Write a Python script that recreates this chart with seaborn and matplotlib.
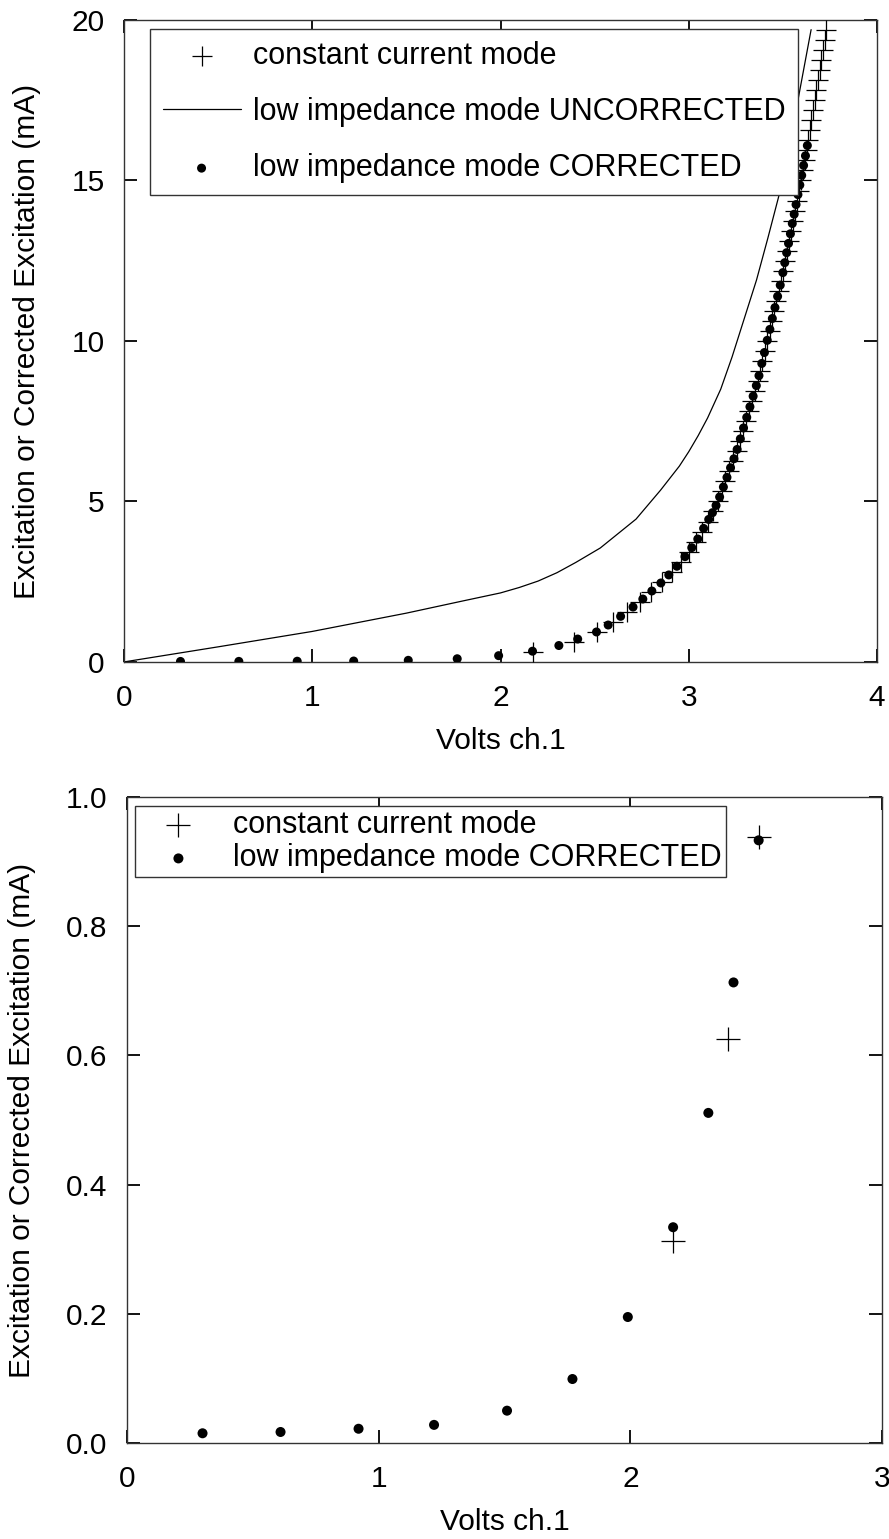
import numpy as np
import pandas as pd
import matplotlib
matplotlib.use("Agg")
import matplotlib.pyplot as plt
import seaborn as sns

# ── data ──
# constant current mode: excitation in 0.3125 mA steps
cc_volts = [2.17, 2.39, 2.51, 2.60, 2.67, 2.74, 2.80, 2.86, 2.91, 2.96,
            3.00, 3.04, 3.07, 3.10, 3.13, 3.155, 3.175, 3.195, 3.215, 3.235,
            3.254, 3.270, 3.286, 3.302, 3.318, 3.334, 3.350, 3.366, 3.379, 3.391,
            3.404, 3.416, 3.429, 3.441, 3.454, 3.466, 3.479, 3.491, 3.502, 3.512,
            3.522, 3.533, 3.543, 3.553, 3.564, 3.574, 3.584, 3.595, 3.605, 3.615,
            3.626, 3.634, 3.643, 3.652, 3.661, 3.670, 3.678, 3.687, 3.696, 3.705,
            3.713, 3.722, 3.731]
cc_ma = [0.3125, 0.625, 0.9375, 1.25, 1.5625, 1.875, 2.1875, 2.5, 2.8125, 3.125,
         3.4375, 3.75, 4.0625, 4.375, 4.6875, 5.0, 5.3125, 5.625, 5.9375, 6.25,
         6.5625, 6.875, 7.1875, 7.5, 7.8125, 8.125, 8.4375, 8.75, 9.0625, 9.375,
         9.6875, 10.0, 10.3125, 10.625, 10.9375, 11.25, 11.5625, 11.875, 12.1875, 12.5,
         12.8125, 13.125, 13.4375, 13.75, 14.0625, 14.375, 14.6875, 15.0, 15.3125, 15.625,
         15.9375, 16.25, 16.5625, 16.875, 17.1875, 17.5, 17.8125, 18.125, 18.4375, 18.75,
         19.0625, 19.375, 19.6875]

# low impedance mode, uncorrected
unc_volts = [0.0, 0.5, 1.0, 1.5, 1.8, 2.0, 2.1, 2.2, 2.3, 2.4, 2.53, 2.72, 2.85,
             2.95, 3.0, 3.05, 3.1, 3.17, 3.23, 3.36, 3.42, 3.5, 3.58, 3.65]
unc_ma = [0.0, 0.47, 0.95, 1.52, 1.9, 2.15, 2.32, 2.52, 2.78, 3.1, 3.55, 4.45, 5.35,
          6.1, 6.55, 7.05, 7.6, 8.5, 9.5, 11.9, 13.2, 15.0, 17.5, 19.7]

# low impedance mode, corrected
cor_volts = [0.30, 0.61, 0.92, 1.22, 1.51, 1.77, 1.99, 2.17, 2.31, 2.41,
             2.51, 2.572, 2.638, 2.704, 2.756, 2.804, 2.852, 2.894, 2.937, 2.980,
             3.016, 3.048, 3.079, 3.106, 3.126, 3.145, 3.164, 3.184, 3.203, 3.222,
             3.240, 3.257, 3.274, 3.291, 3.308, 3.325, 3.342, 3.359, 3.373, 3.388,
             3.402, 3.417, 3.431, 3.444, 3.458, 3.472, 3.486, 3.500, 3.510, 3.520,
             3.530, 3.540, 3.550, 3.560, 3.570, 3.580, 3.590, 3.600, 3.610, 3.620,
             3.630]
cor_ma = [0.015, 0.017, 0.022, 0.028, 0.050, 0.099, 0.195, 0.334, 0.511, 0.713,
          0.933, 1.15, 1.42, 1.71, 1.96, 2.21, 2.46, 2.71, 2.98, 3.28,
          3.56, 3.83, 4.16, 4.44, 4.65, 4.875, 5.14, 5.45, 5.75, 6.05,
          6.33, 6.62, 6.95, 7.29, 7.62, 7.95, 8.28, 8.61, 8.92, 9.30,
          9.64, 10.02, 10.36, 10.70, 11.04, 11.39, 11.74, 12.13, 12.44, 12.75,
          13.04, 13.34, 13.66, 13.95, 14.25, 14.56, 14.86, 15.16, 15.47, 15.77,
          16.09]

LBL_CC  = "constant current mode"
LBL_UNC = "low impedance mode UNCORRECTED"
LBL_COR = "low impedance mode CORRECTED"
XLABEL = "Volts ch.1"
YLABEL = "Excitation or Corrected Excitation (mA)"

cc  = pd.DataFrame({"v": cc_volts,  "ma": cc_ma})
unc = pd.DataFrame({"v": unc_volts, "ma": unc_ma})
cor = pd.DataFrame({"v": cor_volts, "ma": cor_ma})

sns.set_theme(style="ticks")
plt.rcParams["font.family"] = ["Liberation Sans", "DejaVu Sans"]
plt.rcParams.update({"text.color": "black", "axes.labelcolor": "black",
                     "xtick.color": "black", "ytick.color": "black"})
FS = 21.5
LFS = 22

fig = plt.figure(figsize=(8.89, 15.39), dpi=100)
ax1 = fig.add_axes([0.1395, 0.5699, 0.8470, 0.4171])
ax2 = fig.add_axes([0.1429, 0.0624, 0.8492, 0.4197])


def style_axes(ax):
    for s in ax.spines.values():
        s.set_color("#333333")
        s.set_linewidth(1.0)
    ax.tick_params(direction="in", length=9.5, width=1.3, color="black",
                   top=True, right=True, labelsize=FS)
    ax.tick_params(axis="x", pad=16)
    ax.tick_params(axis="y", pad=14)
    ax.set_xlabel(XLABEL, fontsize=FS, labelpad=11)
    ax.set_ylabel(YLABEL, fontsize=FS, labelpad=22)


# ── top panel ──
sns.scatterplot(data=cc, x="v", y="ma", marker="+", s=210, color="black",
                linewidth=0.9, label=LBL_CC, ax=ax1, zorder=3)
sns.lineplot(data=unc, x="v", y="ma", color="black", linewidth=0.9,
             label=LBL_UNC, ax=ax1)
sns.scatterplot(data=cor, x="v", y="ma", marker="o", s=42, color="black",
                edgecolor="none", label=LBL_COR, ax=ax1, zorder=4)
ax1.set_xlim(0, 4)
ax1.set_ylim(0, 20)
ax1.set_xticks([0, 1, 2, 3, 4])
ax1.set_yticks([0, 5, 10, 15, 20])
style_axes(ax1)
ax1.legend(loc="upper left", bbox_to_anchor=(0.035, 0.986), fontsize=LFS,
           frameon=True, fancybox=False, edgecolor="#333333", framealpha=1,
           handlelength=2.55, handletextpad=0.4, borderpad=0.4,
           labelspacing=0.85, borderaxespad=0)

# ── bottom panel (zoom on the low end) ──
low_cc = cc[cc["ma"] <= 1.0]
low_cor = cor[cor["ma"] <= 1.0]
sns.scatterplot(data=low_cc, x="v", y="ma", marker="+", s=280, color="black",
                linewidth=0.9, label=LBL_CC, ax=ax2, zorder=3)
sns.scatterplot(data=low_cor, x="v", y="ma", marker="o", s=52, color="black",
                edgecolor="none", label=LBL_COR, ax=ax2, zorder=4)
ax2.set_xlim(0, 3)
ax2.set_ylim(0, 1.0)
ax2.set_xticks([0, 1, 2, 3])
ax2.set_yticks([0.0, 0.2, 0.4, 0.6, 0.8, 1.0])
ax2.set_yticklabels([f"{v:.1f}" for v in [0.0, 0.2, 0.4, 0.6, 0.8, 1.0]])
style_axes(ax2)
ax2.legend(loc="upper left", bbox_to_anchor=(0.0106, 0.986), fontsize=LFS,
           frameon=True, fancybox=False, edgecolor="#333333", framealpha=1,
           handlelength=2.6, handletextpad=0.5, borderpad=0.12,
           labelspacing=0.12, borderaxespad=0)

fig.savefig("out.png", dpi=100)
print("saved out.png")
